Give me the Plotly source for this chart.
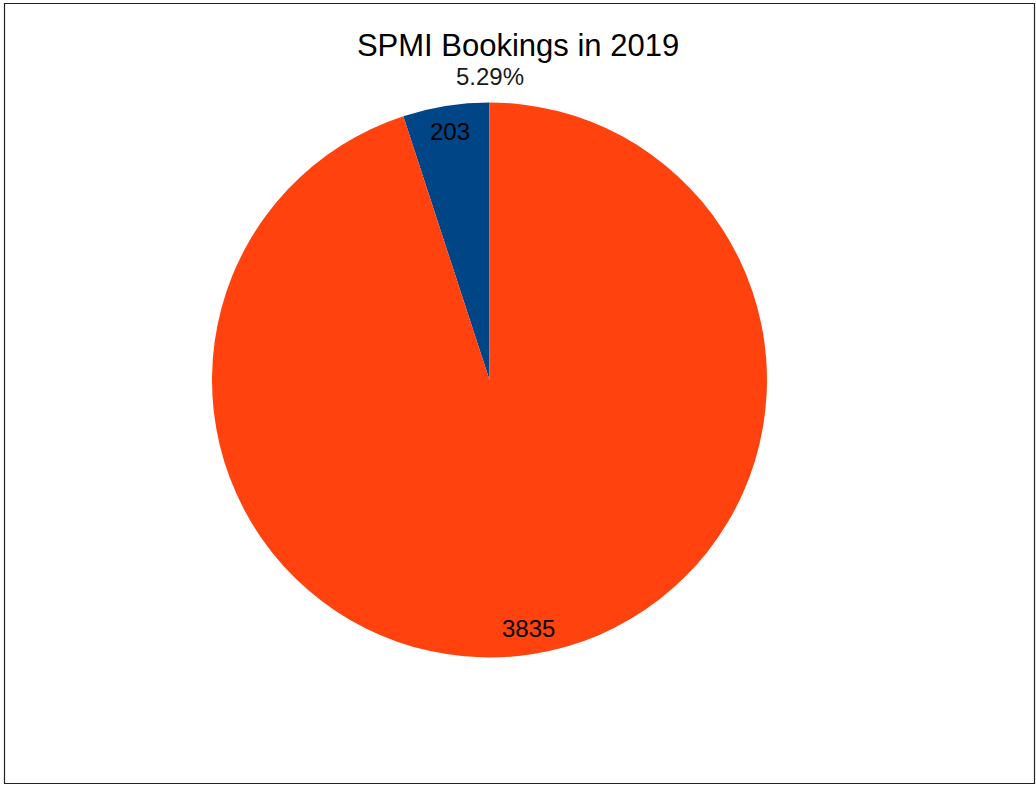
import math
import plotly.graph_objects as go

# Booking counts per group for 2019
labels = ["Group A", "Group B"]
values = [203, 3835]
colors = ["#004586", "#FF420E"]
title_text = "SPMI Bookings in 2019"

W, H = 1036, 785
cx, cy, r = 489.5, 380.0, 277.5  # pie centre / radius in pixels

total = sum(values)
# first slice ends at 12 o'clock, lying to its left
first_angle = 360.0 * values[0] / total

fig = go.Figure(go.Pie(
    labels=labels,
    values=values,
    sort=False,
    direction="clockwise",
    rotation=-first_angle,
    marker=dict(colors=colors, line=dict(width=0)),
    textinfo="none",
    hoverinfo="label+value",
    showlegend=False,
    domain=dict(x=[(cx - r) / W, (cx + r) / W], y=[1 - (cy + r) / H, 1 - (cy - r) / H]),
))

# value labels placed along each slice's mid-angle, near the rim
annotations = []
start = 0.0
for v in values:
    frac = v / total
    mid = (start + frac / 2) * 2 * math.pi  # measured from 12 o'clock, going left
    rr = 0.905 * r
    px = cx - rr * math.sin(mid)
    py = cy - rr * math.cos(mid)
    annotations.append(dict(
        x=px / W, y=1 - py / H, xref="paper", yref="paper",
        text=str(v), showarrow=False,
        font=dict(family="Liberation Sans", size=24, color="#000000"),
        xanchor="center", yanchor="middle",
    ))
    start += frac

# ratio of the small group to the large group, shown above the pie
ratio = values[0] / values[1] * 100
annotations.append(dict(
    x=cx / W, y=1 - 77 / H, xref="paper", yref="paper",
    text=f"{ratio:.2f}%", showarrow=False,
    font=dict(family="Liberation Sans", size=24, color="#1a1a1a"),
    xanchor="center", yanchor="middle",
))

fig.update_layout(
    width=W, height=H,
    margin=dict(l=0, r=0, t=0, b=0),
    paper_bgcolor="white",
    plot_bgcolor="white",
    title=dict(
        text=title_text, x=0.5, xanchor="center",
        y=1 - 45 / H, yanchor="middle", yref="paper",
        font=dict(family="Liberation Sans", size=31, color="#000000"),
    ),
    annotations=annotations,
    shapes=[dict(
        type="rect", xref="paper", yref="paper",
        x0=4.5 / W, x1=1034.5 / W, y0=1 - 783.5 / H, y1=1 - 3.5 / H,
        line=dict(color="#222222", width=1.2),
    )],
)

fig.write_html("out.html")
